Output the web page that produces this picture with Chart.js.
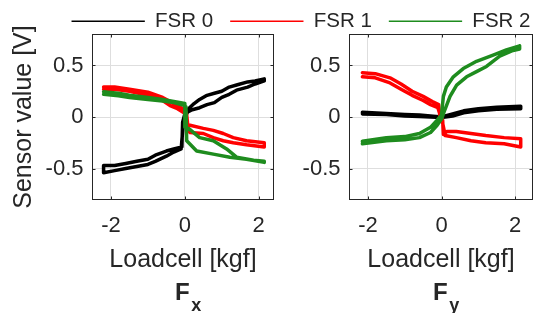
<!DOCTYPE html>
<html>
<head>
<meta charset="utf-8">
<script src="https://cdn.jsdelivr.net/npm/chart.js@4.4.1/dist/chart.umd.min.js"></script>
<style>
  html, body { margin: 0; padding: 0; background: #fff; overflow: hidden; }
  body { width: 534px; height: 313px; position: relative; }
  canvas { position: absolute; top: -6px; }
  #fx { left: 0; }
  #fy { left: 40px; }
</style>
</head>
<body>
<canvas id="fx" width="300" height="319"></canvas>
<canvas id="fy" width="522" height="319"></canvas>
<script>
const sensorNames = ['FSR 0', 'FSR 1', 'FSR 2'];
const xTicks = [-2, 0, 2];
const yTicks = [-0.5, 0, 0.5];

// Fx panel, [loadcell kgf, sensor V] traced along each hysteresis loop
const fxFsr0 = [[0.00,0.00],[0.08,0.05],[0.20,0.07],[0.40,0.09],[0.60,0.12],[0.80,0.14],[1.00,0.19],[1.20,0.22],[1.40,0.26],[1.70,0.29],[1.90,0.32],[2.15,0.35],
  [2.15,0.37],[1.90,0.35],[1.70,0.34],[1.40,0.31],[1.20,0.29],[1.00,0.25],[0.80,0.23],[0.60,0.21],[0.40,0.17],[0.25,0.13],[0.10,0.08],[0.00,0.03],
  [-0.06,-0.05],[-0.08,-0.29],[-0.30,-0.31],[-0.50,-0.33],[-0.80,-0.37],[-1.00,-0.41],[-1.30,-0.43],[-1.60,-0.45],[-1.90,-0.47],[-2.20,-0.47],
  [-2.20,-0.54],[-1.90,-0.52],[-1.60,-0.50],[-1.30,-0.48],[-1.00,-0.46],[-0.80,-0.43],[-0.50,-0.38],[-0.30,-0.34],[-0.10,-0.31],[-0.05,-0.10],[0.00,0.00]];
const fxFsr1 = [[-2.20,0.29],[-1.90,0.29],[-1.50,0.27],[-1.00,0.24],[-0.60,0.19],[-0.40,0.15],[-0.30,0.13],[-0.15,0.10],[0.00,0.07],[0.05,0.02],[0.08,-0.08],
  [0.14,-0.08],[0.50,-0.11],[0.77,-0.13],[1.04,-0.16],[1.31,-0.20],[1.67,-0.23],[2.15,-0.25],
  [2.15,-0.29],[1.67,-0.27],[1.31,-0.25],[1.04,-0.23],[0.77,-0.20],[0.50,-0.16],[0.14,-0.15],[0.06,-0.12],[0.03,0.03],
  [-0.20,0.08],[-0.40,0.11],[-0.60,0.16],[-1.00,0.21],[-1.50,0.25],[-1.90,0.27],[-2.20,0.27]];
const fxFsr2 = [[-2.20,0.245],[-1.80,0.23],[-1.50,0.21],[-1.00,0.19],[-0.60,0.17],[-0.30,0.15],[0.00,0.13],[0.00,-0.10],
  [0.10,-0.11],[0.40,-0.20],[0.77,-0.23],[1.13,-0.31],[1.40,-0.39],[1.86,-0.42],[2.15,-0.43],
  [2.15,-0.44],[1.67,-0.41],[1.22,-0.39],[0.77,-0.36],[0.32,-0.33],[0.05,-0.23],[0.03,0.10],
  [0.00,0.11],[-0.30,0.14],[-0.60,0.155],[-1.00,0.17],[-1.50,0.19],[-1.80,0.205],[-2.20,0.22]];

// Fy panel
const fyFsr0 = [[-2.15,0.045],[-1.50,0.035],[-1.00,0.025],[-0.60,0.02],[-0.30,0.01],[0.00,0.00],[0.30,0.03],[0.60,0.06],[1.00,0.08],[1.50,0.095],[2.15,0.105],
  [2.15,0.08],[1.50,0.075],[1.00,0.06],[0.60,0.04],[0.30,0.01],[0.00,-0.005],[-0.30,0.00],[-0.60,0.005],[-1.00,0.01],[-1.50,0.025],[-2.15,0.03]];
const fyFsr1 = [[-2.15,0.43],[-1.80,0.42],[-1.40,0.38],[-1.10,0.32],[-0.80,0.25],[-0.50,0.20],[-0.25,0.15],[-0.08,0.12],[-0.05,0.02],[0.03,-0.03],[0.05,-0.17],
  [0.15,-0.14],[0.40,-0.14],[0.80,-0.16],[1.20,-0.18],[1.70,-0.20],[2.15,-0.21],
  [2.15,-0.29],[1.70,-0.26],[1.20,-0.25],[0.80,-0.23],[0.40,-0.20],[0.10,-0.18],[0.03,-0.06],
  [-0.10,0.09],[-0.30,0.12],[-0.50,0.16],[-0.80,0.21],[-1.10,0.27],[-1.40,0.33],[-1.80,0.38],[-2.15,0.39]];
const fyFsr2 = [[-2.15,-0.235],[-1.50,-0.20],[-1.00,-0.19],[-0.60,-0.16],[-0.30,-0.10],[-0.12,-0.03],[0.00,0.02],
  [0.02,0.10],[0.05,0.20],[0.13,0.29],[0.32,0.39],[0.59,0.47],[0.95,0.54],[1.40,0.60],[1.76,0.65],[2.12,0.69],
  [2.12,0.66],[1.94,0.645],[1.58,0.59],[1.22,0.49],[0.95,0.44],[0.68,0.39],[0.41,0.31],[0.23,0.20],[0.09,0.07],[0.00,-0.02],
  [-0.12,-0.08],[-0.30,-0.15],[-0.60,-0.20],[-1.00,-0.22],[-1.50,-0.23],[-2.15,-0.26]];

const lineColors = ['#000000', '#ff0000', '#1e8c1e'];
const textColor = '#262626';
const family = '"Liberation Sans", Arial, Helvetica, sans-serif';

Chart.defaults.font.family = family;
Chart.defaults.color = textColor;

function makeDatasets(series) {
    return series.map((pairs, i) => ({
        label: sensorNames[i],
        data: pairs.map(([x, y]) => ({ x, y })),
        showLine: true,
        borderColor: lineColors[i],
        backgroundColor: lineColors[i],
        borderWidth: 3.5,
        pointRadius: 0,
        borderJoinStyle: 'round',
        borderCapStyle: 'round',
        order: 3 - i, // green on top
    }));
}

// box around the plot area with small inward ticks (matlab style)
const framePlugin = {
    id: 'frame',
    afterDatasetsDraw(chart) {
        const { ctx, chartArea: a, scales: { x, y } } = chart;
        ctx.save();
        ctx.strokeStyle = textColor;
        ctx.lineWidth = 1;
        ctx.strokeRect(a.left, a.top, a.right - a.left, a.bottom - a.top);
        ctx.beginPath();
        x.ticks.forEach(t => {
            const px = Math.round(x.getPixelForValue(t.value)) + 0.5;
            ctx.moveTo(px, a.bottom); ctx.lineTo(px, a.bottom - 3);
            ctx.moveTo(px, a.top); ctx.lineTo(px, a.top + 3);
        });
        y.ticks.forEach(t => {
            const py = Math.round(y.getPixelForValue(t.value)) + 0.5;
            ctx.moveTo(a.left, py); ctx.lineTo(a.left + 3, py);
            ctx.moveTo(a.right, py); ctx.lineTo(a.right - 3, py);
        });
        ctx.stroke();
        ctx.restore();
    }
};

// "F" with subscript under each panel
const tagPlugin = {
    id: 'panelTag',
    afterDraw(chart, args, opts) {
        const { ctx, chartArea: a } = chart;
        const left = (a.left + a.right) / 2 - 8;
        ctx.save();
        ctx.fillStyle = textColor;
        ctx.textAlign = 'left';
        ctx.textBaseline = 'alphabetic';
        ctx.font = 'bold 24px ' + family;
        ctx.fillText(opts.main, left, 306);
        const w = ctx.measureText(opts.main).width;
        ctx.font = 'bold 18px ' + family;
        ctx.fillText(opts.sub, left + w + 1.5, 317);
        ctx.restore();
    }
};

function panel(el, cfg) {
    return new Chart(el, {
        type: 'scatter',
        data: { datasets: makeDatasets(cfg.series) },
        plugins: [framePlugin, tagPlugin],
        options: {
            responsive: false,
            animation: false,
            events: [],
            layout: { padding: cfg.padding },
            scales: {
                x: {
                    type: 'linear',
                    min: -2.5,
                    max: cfg.xMax,
                    afterBuildTicks: s => { s.ticks = xTicks.map(v => ({ value: v })); },
                    afterFit: s => { s.height = 113.5; },
                    grid: { color: '#dedede', drawTicks: false },
                    border: { display: false },
                    ticks: { padding: 13, color: textColor, font: { size: 22 }, callback: v => String(v) },
                    title: {
                        display: true,
                        text: 'Loadcell [kgf]',
                        color: textColor,
                        font: { size: 25 },
                        padding: { top: 0, bottom: 38 },
                    },
                },
                y: {
                    type: 'linear',
                    min: -0.8,
                    max: 0.8,
                    afterBuildTicks: s => { s.ticks = yTicks.map(v => ({ value: v })); },
                    afterFit: s => { s.width = cfg.yAxisWidth; },
                    grid: { color: '#dedede', drawTicks: false },
                    border: { display: false },
                    ticks: { padding: 9, color: textColor, font: { size: 22 }, callback: v => String(v) },
                    title: {
                        display: cfg.yTitle,
                        text: 'Sensor value [V]',
                        color: textColor,
                        font: { size: 25 },
                        padding: { top: 9.5, bottom: 0 },
                    },
                },
                // empty spacer on the right, keeps the legend centred on the whole canvas
                gap: {
                    type: 'linear',
                    position: 'right',
                    display: cfg.rightGap > 0,
                    min: 0,
                    max: 1,
                    afterFit: s => { s.width = cfg.rightGap; },
                    grid: { display: false },
                    border: { display: false },
                    ticks: { display: false },
                },
            },
            plugins: {
                tooltip: { enabled: false },
                panelTag: cfg.tag,
                legend: {
                    display: cfg.legend,
                    position: 'top',
                    align: 'center',
                    maxHeight: 40.5,
                    labels: {
                        boxWidth: 73.3,
                        boxHeight: 1.5,
                        padding: 17,
                        color: textColor,
                        font: { size: 20.5 },
                        generateLabels: chart => Chart.defaults.plugins.legend.labels.generateLabels(chart)
                            .map(l => ({ ...l, lineWidth: 0 })),
                        sort: (a, b) => a.datasetIndex - b.datasetIndex,
                    },
                },
            },
        },
    });
}

panel(document.getElementById('fx'), {
    series: [fxFsr0, fxFsr1, fxFsr2],
    xMax: 2.4,
    yAxisWidth: 92.5,
    yTitle: true,
    legend: false,
    rightGap: 0,
    padding: { top: 40.5, right: 26.5, left: 0, bottom: 0 },
    tag: { main: 'F', sub: 'x' },
});

panel(document.getElementById('fy'), {
    series: [fyFsr0, fyFsr1, fyFsr2],
    xMax: 2.47,
    yAxisWidth: 309.5,
    yTitle: false,
    legend: true,
    rightGap: 29.5,
    padding: { top: 0, right: 0, left: 0, bottom: 0 },
    tag: { main: 'F', sub: 'y' },
});
</script>
</body>
</html>
